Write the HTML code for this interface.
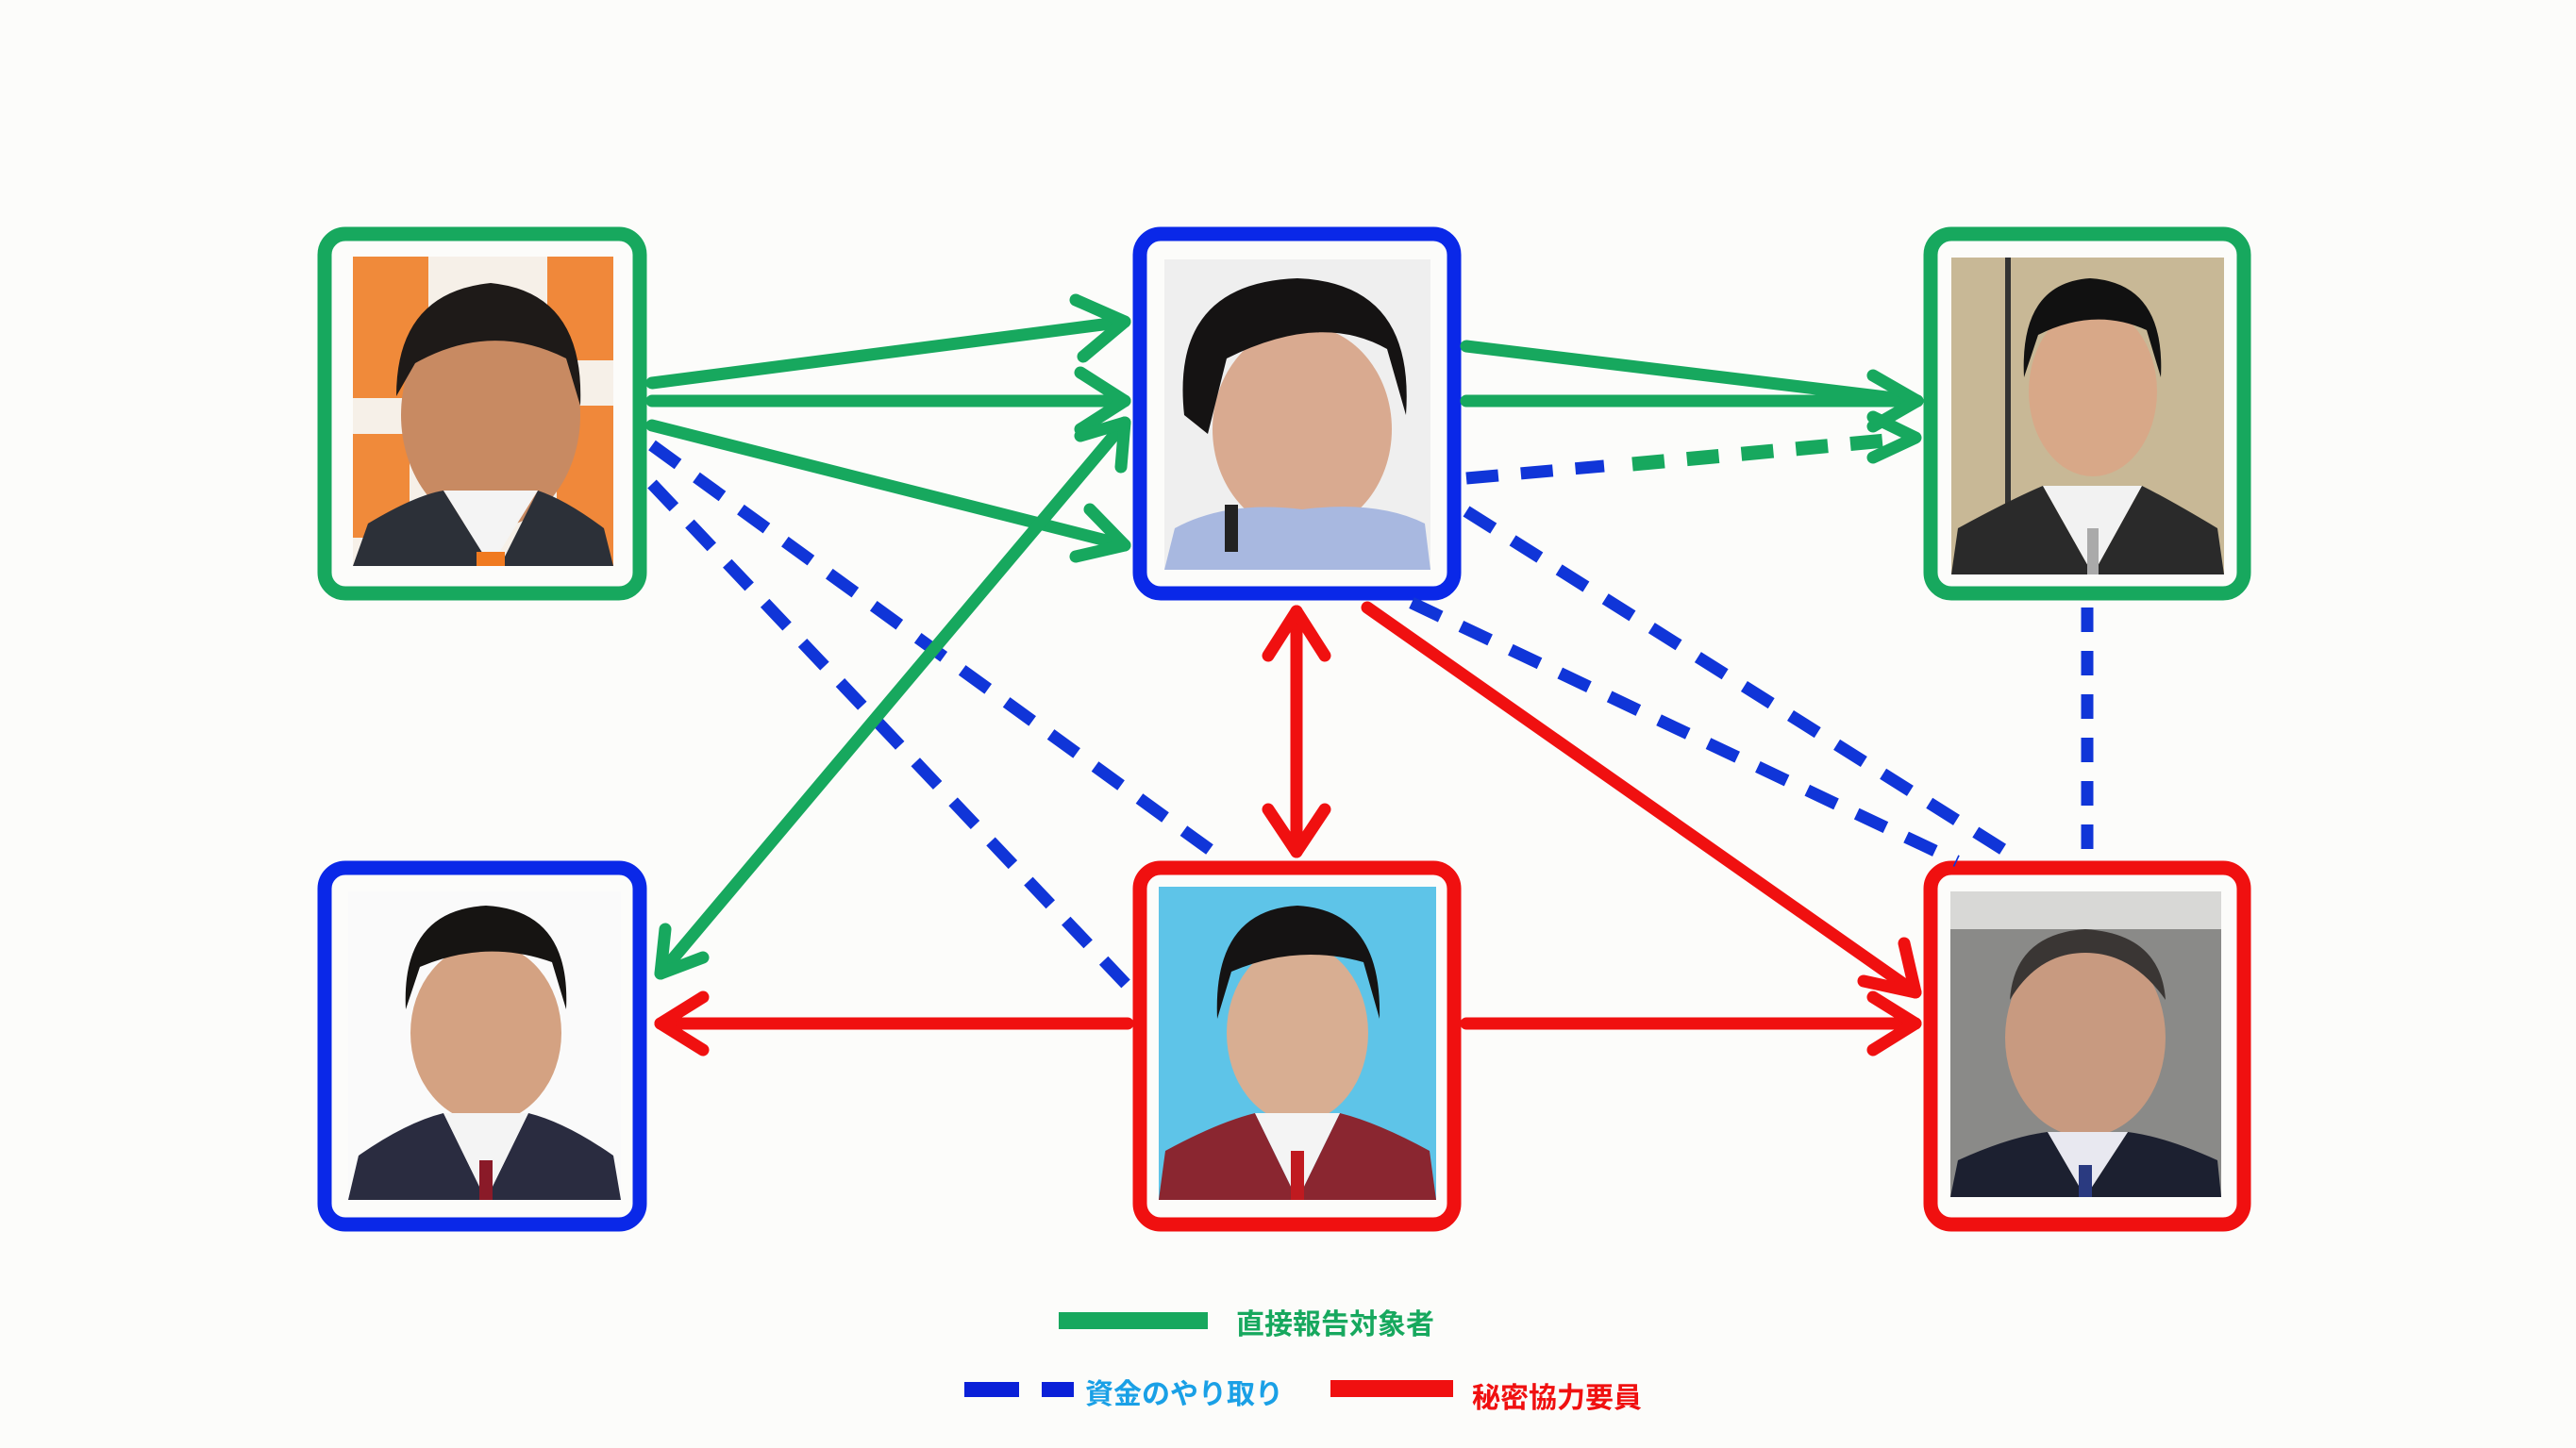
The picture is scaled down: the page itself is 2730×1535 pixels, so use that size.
<!DOCTYPE html>
<html><head><meta charset="utf-8"><style>
html,body{margin:0;padding:0;background:#fcfcfa;}
svg{display:block}
text{font-family:"Liberation Sans","Noto Sans CJK JP",sans-serif;font-weight:bold;}
</style></head><body>
<svg width="2730" height="1535" viewBox="0 0 2730 1535" xmlns="http://www.w3.org/2000/svg">
<rect width="2730" height="1535" fill="#fcfcfa"/>
<defs>
<clipPath id="c1"><rect x="374" y="272" width="276" height="328"/></clipPath>
<clipPath id="c2"><rect x="1234" y="275" width="282" height="329"/></clipPath>
<clipPath id="c3"><rect x="2068" y="273" width="289" height="336"/></clipPath>
<clipPath id="c4"><rect x="369" y="945" width="289" height="327"/></clipPath>
<clipPath id="c5"><rect x="1228" y="940" width="294" height="332"/></clipPath>
<clipPath id="c6"><rect x="2067" y="945" width="287" height="324"/></clipPath>
</defs>

<!-- photos -->
<g clip-path="url(#c1)">
<rect x="374" y="272" width="276" height="328" fill="#f6f0e8"/>
<rect x="374" y="272" width="80" height="150" fill="#f08a3a"/>
<rect x="580" y="272" width="70" height="110" fill="#f0883a"/>
<rect x="590" y="430" width="60" height="170" fill="#f0883a"/>
<rect x="374" y="460" width="60" height="110" fill="#f08a3a"/>
<ellipse cx="520" cy="440" rx="95" ry="120" fill="#c88a62"/>
<path d="M420 420 Q420 310 520 300 Q620 310 615 430 L600 380 Q520 340 440 385 Z" fill="#1e1a18"/>
<path d="M374 600 L390 555 Q440 525 470 520 L520 600 Z" fill="#2c3038"/>
<path d="M650 600 L640 560 Q600 530 570 520 L530 600 Z" fill="#2c3038"/>
<path d="M470 520 L520 600 L570 520 Z" fill="#f4f4f4"/>
<rect x="505" y="585" width="30" height="15" fill="#f07a20"/>
</g>
<g clip-path="url(#c2)">
<rect x="1234" y="275" width="282" height="329" fill="#efefef"/>
<ellipse cx="1380" cy="455" rx="95" ry="110" fill="#d9aa90"/>
<path d="M1255 440 Q1240 300 1375 295 Q1500 300 1490 440 L1470 370 Q1400 330 1300 380 L1280 460 Z" fill="#151313"/>
<path d="M1234 604 L1245 560 Q1300 530 1380 540 Q1460 530 1510 555 L1516 604 Z" fill="#a8b8e0"/>
<rect x="1298" y="535" width="14" height="50" fill="#222"/>
</g>
<g clip-path="url(#c3)">
<rect x="2068" y="273" width="289" height="336" fill="#c8b896"/>
<rect x="2125" y="273" width="6" height="336" fill="#333"/>
<ellipse cx="2218" cy="415" rx="68" ry="90" fill="#d8a888"/>
<path d="M2145 400 Q2140 300 2215 295 Q2295 300 2290 400 L2275 350 Q2220 325 2160 355 Z" fill="#111"/>
<path d="M2068 609 L2075 560 Q2130 530 2165 515 L2218 609 Z" fill="#2a2a2a"/>
<path d="M2357 609 L2350 560 Q2300 530 2270 515 L2218 609 Z" fill="#2a2a2a"/>
<path d="M2165 515 L2218 609 L2270 515 Z" fill="#f2f2f2"/>
<rect x="2212" y="560" width="12" height="49" fill="#aaa"/>
</g>
<g clip-path="url(#c4)">
<rect x="369" y="945" width="289" height="327" fill="#fafafa"/>
<ellipse cx="515" cy="1095" rx="80" ry="95" fill="#d4a282"/>
<path d="M430 1070 Q425 965 515 960 Q605 965 600 1070 L585 1020 Q515 995 445 1025 Z" fill="#161412"/>
<path d="M369 1272 L380 1225 Q430 1190 470 1180 L515 1272 Z" fill="#2a2c40"/>
<path d="M658 1272 L650 1225 Q600 1190 560 1180 L515 1272 Z" fill="#2a2c40"/>
<path d="M470 1180 L515 1272 L560 1180 Z" fill="#f4f4f4"/>
<rect x="508" y="1230" width="14" height="42" fill="#8a1a28"/>
</g>
<g clip-path="url(#c5)">
<rect x="1228" y="940" width="294" height="332" fill="#5ec4e8"/>
<ellipse cx="1375" cy="1095" rx="75" ry="95" fill="#d8ae92"/>
<path d="M1290 1080 Q1285 965 1375 960 Q1465 965 1462 1080 L1445 1020 Q1375 1000 1305 1030 Z" fill="#151313"/>
<path d="M1228 1272 L1235 1220 Q1290 1190 1330 1180 L1375 1272 Z" fill="#8a2630"/>
<path d="M1522 1272 L1515 1220 Q1460 1190 1420 1180 L1375 1272 Z" fill="#8a2630"/>
<path d="M1330 1180 L1375 1272 L1420 1180 Z" fill="#f4f4f4"/>
<rect x="1368" y="1220" width="14" height="52" fill="#c01a20"/>
</g>
<g clip-path="url(#c6)">
<rect x="2067" y="945" width="287" height="324" fill="#8a8a88"/>
<rect x="2067" y="945" width="287" height="40" fill="#d8d8d6"/>
<ellipse cx="2210" cy="1100" rx="85" ry="105" fill="#c89a80"/>
<path d="M2130 1060 Q2135 990 2210 985 Q2290 990 2295 1060 Q2260 1010 2210 1010 Q2160 1010 2130 1060 Z" fill="#3a3634"/>
<path d="M2067 1269 L2075 1230 Q2130 1205 2170 1200 L2210 1269 Z" fill="#1c2030"/>
<path d="M2354 1269 L2350 1230 Q2295 1205 2255 1200 L2210 1269 Z" fill="#1c2030"/>
<path d="M2170 1200 L2210 1269 L2255 1200 Z" fill="#e8e8f0"/>
<rect x="2203" y="1235" width="14" height="34" fill="#2a3a80"/>
</g>

<!-- boxes -->
<g fill="none" stroke-width="15">
<rect x="344" y="248" width="334" height="381" rx="22" stroke="#17a85e"/>
<rect x="1208" y="248" width="333" height="381" rx="22" stroke="#0a28e8"/>
<rect x="2046" y="248" width="332" height="381" rx="22" stroke="#17a85e"/>
<rect x="344" y="920" width="334" height="378" rx="22" stroke="#0a28e8"/>
<rect x="1208" y="920" width="333" height="378" rx="22" stroke="#f01010"/>
<rect x="2046" y="920" width="332" height="378" rx="22" stroke="#f01010"/>
</g>

<!-- blue dashed -->
<g fill="none" stroke="#1035d8" stroke-width="13" stroke-dasharray="34 24">
<line x1="691" y1="472" x2="1295" y2="910"/>
<line x1="691" y1="513" x2="1195" y2="1045"/>
<line x1="1554" y1="542" x2="2138" y2="910"/>
<line x1="1496" y1="639" x2="2074" y2="913"/>
<line x1="2212" y1="644" x2="2212" y2="912" stroke-dasharray="26 20"/>
<line x1="1554" y1="507" x2="1700" y2="494"/>
</g>
<line x1="1730" y1="492" x2="2020" y2="465" stroke="#17a85e" stroke-width="15" stroke-dasharray="34 24"/>

<!-- green -->
<g fill="none" stroke="#17a85e" stroke-width="13" stroke-linecap="round" stroke-linejoin="round">
<line x1="691" y1="406" x2="1192" y2="341"/>
<polyline points="1140,318 1192,341 1148,378"/>
<line x1="691" y1="425" x2="1192" y2="425"/>
<polyline points="1145,395 1192,425 1145,455"/>
<line x1="691" y1="451" x2="1192" y2="578"/>
<polyline points="1155,540 1192,578 1140,590"/>
<line x1="700" y1="1032" x2="1192" y2="448"/>
<polyline points="1145,462 1192,448 1188,495"/>
<polyline points="705,985 700,1032 745,1015"/>
<line x1="1554" y1="367" x2="2032" y2="425"/>
<line x1="1554" y1="425" x2="2032" y2="425"/>
<polyline points="1985,398 2032,425 1985,452"/>
<polyline points="1985,442 2030,464 1985,485"/>
</g>

<!-- red -->
<g fill="none" stroke="#f01010" stroke-width="13" stroke-linecap="round" stroke-linejoin="round">
<line x1="1374" y1="648" x2="1374" y2="903"/>
<polyline points="1344,695 1374,648 1404,695"/>
<polyline points="1344,858 1374,903 1404,858"/>
<line x1="1449" y1="644" x2="2030" y2="1052"/>
<polyline points="1975,1040 2030,1052 2018,1000"/>
<line x1="1195" y1="1085" x2="700" y2="1085"/>
<polyline points="745,1057 700,1085 745,1113"/>
<line x1="1554" y1="1085" x2="2030" y2="1085"/>
<polyline points="1985,1057 2030,1085 1985,1113"/>
</g>

<!-- legend -->
<rect x="1122" y="1391" width="158" height="18" fill="#17a85e"/>
<text x="1310" y="1414" font-size="30" fill="#17a85e">直接報告対象者</text>
<rect x="1022" y="1465" width="58" height="16" fill="#0a20d8"/>
<rect x="1104" y="1465" width="34" height="16" fill="#0a20d8"/>
<text x="1150" y="1488" font-size="30" fill="#1aa0e6">資金のやり取り</text>
<rect x="1410" y="1463" width="130" height="18" fill="#f01010"/>
<text x="1560" y="1492" font-size="30" fill="#f01010">秘密協力要員</text>
</svg>
</body></html>
